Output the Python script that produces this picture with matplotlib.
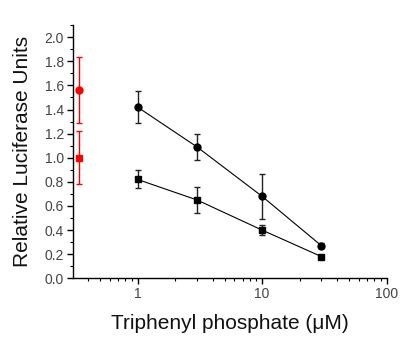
import numpy as np
import matplotlib
matplotlib.use("Agg")
import matplotlib.pyplot as plt
from matplotlib.ticker import FixedLocator, NullFormatter, MultipleLocator

plt.rcParams['font.family'] = ['Liberation Sans', 'DejaVu Sans']

# concentrations (uM)
conc = [1, 3, 10, 30]

# circle series
circ_y = [1.42, 1.09, 0.68, 0.27]
circ_err = [0.135, 0.11, 0.185, 0.02]

# square series
sq_y = [0.82, 0.65, 0.40, 0.18]
sq_err = [0.075, 0.11, 0.045, 0.015]

# controls (red)
ctrl_x = [0.34, 0.34]
ctrl_y = [1.56, 1.00]
ctrl_err = [0.275, 0.22]
ctrl_markers = ['o', 's']

fig = plt.figure(figsize=(4.17, 3.44), dpi=100)
ax = fig.add_axes([0.175, 0.191, 0.752, 0.736])

ax.errorbar(conc, circ_y, yerr=circ_err, color='black', marker='o', ms=5,
            lw=0.8, elinewidth=1, capsize=2.5, capthick=1, ecolor='#222222')
ax.errorbar(conc, sq_y, yerr=sq_err, color='black', marker='s', ms=5,
            lw=0.8, elinewidth=1, capsize=2.5, capthick=1, ecolor='#222222')
for x, y, e, m in zip(ctrl_x, ctrl_y, ctrl_err, ctrl_markers):
    ax.errorbar([x], [y], yerr=[e], color='red', marker=m, ms=5,
                elinewidth=1, capsize=2.5, capthick=1, ls='none')

ax.set_xscale('log')
ax.set_xlim(0.303, 100)
ax.set_ylim(0, 2.1)
ax.xaxis.set_major_locator(FixedLocator([1, 10, 100]))
ax.set_xticklabels(['1', '10', '100'])
ax.xaxis.set_minor_locator(FixedLocator(
    [0.4, 0.5, 0.6, 0.7, 0.8, 0.9] + [i for i in range(2, 10)] + [i * 10 for i in range(2, 10)]))
ax.xaxis.set_minor_formatter(NullFormatter())
ax.yaxis.set_major_locator(MultipleLocator(0.2))
ax.yaxis.set_minor_locator(MultipleLocator(0.1))
ax.set_yticks(np.arange(0, 2.01, 0.2))
ax.set_yticklabels(['%.1f' % v for v in np.arange(0, 2.01, 0.2)])

for s in ['top', 'right']:
    ax.spines[s].set_visible(False)
for s in ['left', 'bottom']:
    ax.spines[s].set_linewidth(1)
ax.tick_params(which='major', length=4, width=1, labelsize=10, labelcolor='#444444', pad=2.5)
ax.tick_params(which='minor', length=2, width=0.8)

ax.set_xlabel('Triphenyl phosphate (\u03bcM)', fontsize=15, labelpad=9, color='#111111')
ax.set_ylabel('Relative Luciferase Units', fontsize=15, labelpad=9, color='#111111')

fig.savefig('out.png', dpi=100)
